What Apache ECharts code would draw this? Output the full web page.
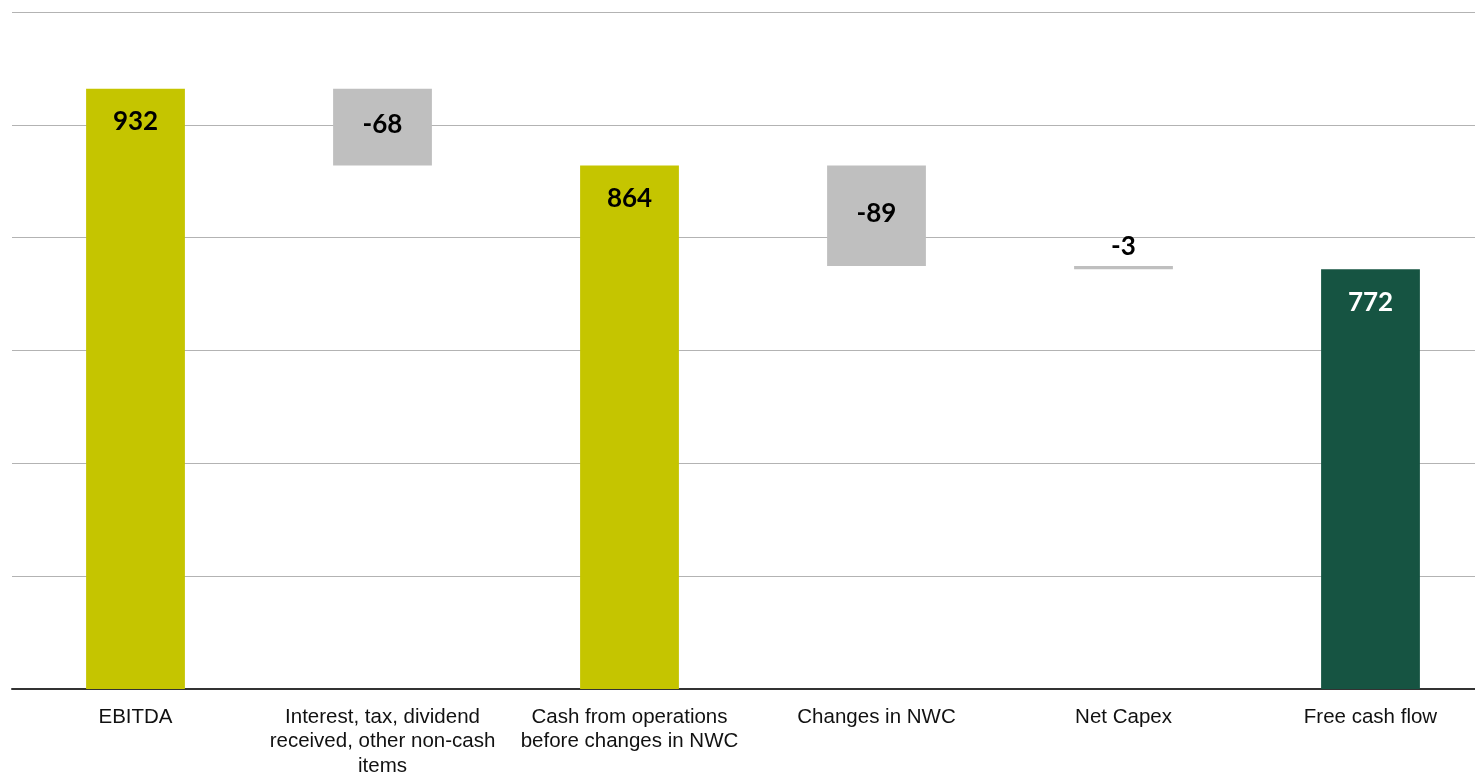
<!DOCTYPE html>
<html>
<head>
<meta charset="utf-8">
<script src="https://cdn.jsdelivr.net/npm/echarts@6/dist/echarts.min.js"></script>
<style>
  html, body { margin: 0; padding: 0; background: #ffffff; overflow: hidden; }
  #chart { width: 1475px; height: 772px; }
</style>
</head>
<body>
<div id="chart"></div>
<script>
// ---- data ----
const categories = [
  'EBITDA',
  'Interest, tax, dividend\nreceived, other non-cash\nitems',
  'Cash from operations\nbefore changes in NWC',
  'Changes in NWC',
  'Net Capex',
  'Free cash flow'
];
const values = [932, -68, 864, -89, -3, 772];
const isTotal = [true, false, true, false, false, true];
const yTicks = { min: 400, max: 1000, step: 100 };

// ---- build waterfall ----
const OLIVE = '#C5C500', GREY = '#BFBFBF', DARK = '#165442';
const baseData = [], barData = [];
let level = 0;
values.forEach((v, i) => {
  const last = i === values.length - 1;
  if (isTotal[i]) {
    level = v;
    baseData.push(0);
    barData.push({
      value: v,
      itemStyle: { color: last ? DARK : OLIVE },
      label: { position: 'insideTop', distance: 20, color: last ? '#ffffff' : '#000000' }
    });
  } else {
    const lo = v < 0 ? level + v : level;
    baseData.push(lo);
    const small = Math.abs(v) < 20;
    barData.push({
      value: Math.abs(v),
      raw: v,
      itemStyle: { color: GREY },
      label: small
        ? { position: 'top', distance: 6, color: '#000000' }
        : { position: 'inside', offset: [0, -2], color: '#000000' }
    });
    level += v;
  }
});

const chart = echarts.init(document.getElementById('chart'), null, { renderer: 'canvas' });
chart.setOption({
  animation: false,
  backgroundColor: '#ffffff',
  grid: { left: 12, top: 12, width: 1482, height: 677, containLabel: false, outerBoundsMode: 'none' },
  xAxis: {
    type: 'category',
    data: categories,
    axisLine: { show: true, lineStyle: { color: '#333333', width: 2 } },
    axisTick: { show: false },
    axisLabel: {
      interval: 0,
      margin: 16,
      color: '#111111',
      fontFamily: 'Liberation Sans, Arial, sans-serif',
      fontSize: 20.5,
      lineHeight: 24.5
    },
    splitLine: { show: false }
  },
  yAxis: {
    type: 'value',
    min: yTicks.min,
    max: yTicks.max,
    interval: yTicks.step,
    axisLine: { show: false },
    axisTick: { show: false },
    axisLabel: { show: false },
    splitLine: { show: true, lineStyle: { color: '#B3B3B3', width: 1 } }
  },
  series: [
    {
      type: 'bar',
      stack: 'wf',
      data: baseData,
      barWidth: '40%',
      itemStyle: { color: 'rgba(0,0,0,0)' },
      emphasis: { disabled: true },
      silent: true
    },
    {
      type: 'bar',
      stack: 'wf',
      data: barData,
      barWidth: '40%',
      label: {
        show: true,
        fontFamily: 'Lato, "Open Sans", sans-serif',
        fontWeight: 'bold',
        fontSize: 26,
        lineHeight: 26,
        formatter: p => (p.data.raw !== undefined ? String(p.data.raw) : String(p.value))
      }
    }
  ]
});
</script>
</body>
</html>
